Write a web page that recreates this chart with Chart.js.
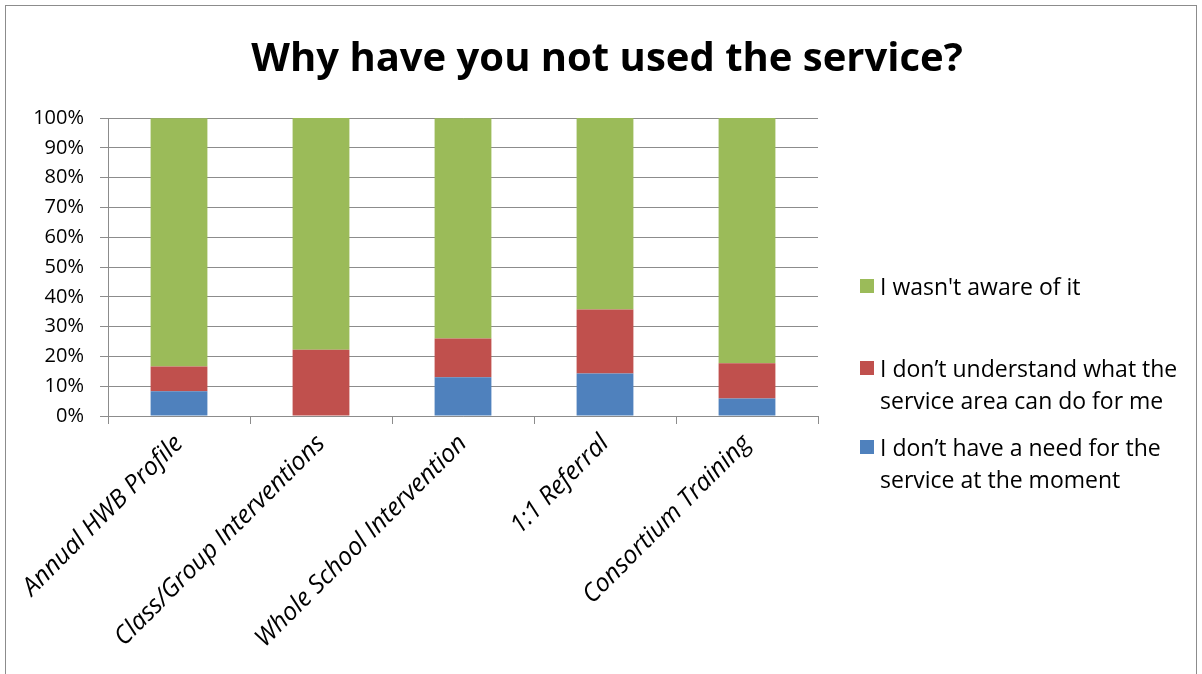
<!DOCTYPE html>
<html>
<head>
<meta charset="utf-8">
<script src="https://cdn.jsdelivr.net/npm/chart.js@4.4.1/dist/chart.umd.min.js"></script>
<style>
  html, body { margin: 0; padding: 0; background: #fff; }
  #wrap { position: relative; width: 1202px; height: 674px; overflow: hidden; }
  #frame { position: absolute; left: 5px; top: 5px; width: 1192px; height: 700px; border: 1px solid #8c8c8c; box-sizing: border-box; }
  canvas { position: absolute; left: 0; top: 0; }
  #legend { position: absolute; left: 860px; top: 0; font-family: 'Open Sans', sans-serif; font-size: 23px; color: #000; }
  .item { position: absolute; left: 0; width: 340px; line-height: 32px; }
  .sw { position: absolute; left: 0; width: 14px; height: 14px; }
  .txt { position: absolute; left: 20px; white-space: nowrap; }
</style>
</head>
<body>
<div id="wrap">
  <div id="frame"></div>
  <canvas id="c" width="1202" height="674"></canvas>
  <div id="legend"></div>
</div>
<script>
/* ─── Data (% of respondents) ─── */
const categories = ['Annual HWB Profile', 'Class/Group Interventions', 'Whole School Intervention', '1:1 Referral', 'Consortium Training'];
const noNeed        = [8.3, 0, 13.0, 14.3, 5.9];
const notUnderstand = [8.3, 22.2, 13.0, 21.4, 11.8];
const notAware      = [83.3, 77.8, 73.9, 64.3, 82.4];
const seriesNames = [
  'I don\u2019t have a need for the service at the moment',
  'I don\u2019t understand what the service area can do for me',
  'I wasn\'t aware of it'
];
const legendLines = [
  ['I don\u2019t have a need for the', 'service at the moment'],
  ['I don\u2019t understand what the', 'service area can do for me'],
  ['I wasn\'t aware of it']
];
const yTicks = [0, 10, 20, 30, 40, 50, 60, 70, 80, 90, 100];
const TITLE = 'Why have you not used the service?';

const COLORS = ['#4F81BD', '#C0504D', '#9BBB59'];
const GRID = '#8c8c8c';
const FONT = "'Open Sans', sans-serif";

/* title is drawn centred on the whole frame, not on the plot box */
const centerTitle = {
  id: 'centerTitle',
  afterDraw(chart) {
    const c = chart.ctx;
    c.save();
    c.font = 'bold 40px ' + FONT;
    c.fillStyle = '#000';
    c.textAlign = 'center';
    c.textBaseline = 'middle';
    c.fillText(TITLE, chart.width / 2 + 6, 60);
    c.restore();
  },
};

const ctx = document.getElementById('c');
new Chart(ctx, {
  type: 'bar',
  data: {
    labels: categories,
    datasets: [noNeed, notUnderstand, notAware].map((d, i) => ({
      label: seriesNames[i],
      data: d,
      backgroundColor: COLORS[i],
      borderWidth: 0,
      categoryPercentage: 1,
      barPercentage: 0.4,
    })),
  },
  plugins: [centerTitle],
  options: {
    responsive: false,
    animation: false,
    layout: { padding: { left: 0, right: 384, top: 0, bottom: 0 } },
    plugins: {
      legend: { display: false },
      tooltip: { enabled: false },
      title: {
        display: true,
        text: TITLE,
        color: 'rgba(0,0,0,0)',
        font: { family: FONT, size: 35, weight: 'bold', lineHeight: 1.2 },
        padding: { top: 38, bottom: 38 },
      },
    },
    scales: {
      x: {
        stacked: true,
        grid: { display: true, drawOnChartArea: false, color: GRID, tickLength: 8, offset: true },
        border: { color: GRID, width: 1 },
        ticks: {
          color: '#000',
          font: { family: FONT, size: 25, style: 'italic' },
          minRotation: 45,
          maxRotation: 45,
          padding: 5,
          autoSkip: false,
        },
        afterFit: (s) => { s.height = 674 - 416; },
      },
      y: {
        stacked: true,
        min: 0,
        max: 100,
        afterBuildTicks: (s) => { s.ticks = yTicks.map(v => ({ value: v })); },
        grid: { color: GRID, tickLength: 8 },
        border: { color: GRID, width: 1 },
        ticks: {
          color: '#000',
          font: { family: FONT, size: 20 },
          padding: 16,
          callback: (v) => v + '%',
        },
        afterFit: (s) => { s.width = 108; },
      },
    },
  },
});

/* ─── HTML legend (wrapped text, reversed order like the original) ─── */
const legendTops = [447, 368, 286];
const legend = document.getElementById('legend');
[2, 1, 0].forEach((i) => {
  const item = document.createElement('div');
  item.className = 'item';
  item.style.top = (legendTops[i] - 16) + 'px';
  const sw = document.createElement('div');
  sw.className = 'sw';
  sw.style.background = COLORS[i];
  sw.style.top = '9px';
  item.appendChild(sw);
  const txt = document.createElement('div');
  txt.className = 'txt';
  txt.innerHTML = legendLines[i].join('<br>');
  item.appendChild(txt);
  legend.appendChild(item);
});
</script>
</body>
</html>
